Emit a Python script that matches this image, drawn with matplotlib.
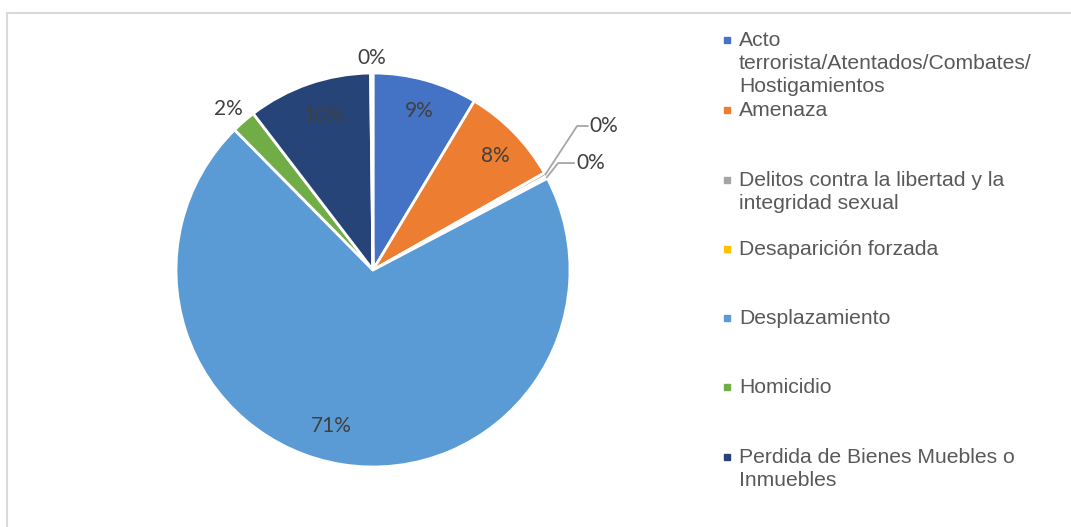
import matplotlib
matplotlib.use("Agg")
import matplotlib.pyplot as plt
from matplotlib.lines import Line2D
import numpy as np

categories = [
    "Acto\nterrorista/Atentados/Combates/\nHostigamientos",
    "Amenaza",
    "Delitos contra la libertad y la\nintegridad sexual",
    "Desaparición forzada",
    "Desplazamiento",
    "Homicidio",
    "Perdida de Bienes Muebles o\nInmuebles",
    "Otro",
]
values = [8.6, 8.2, 0.3, 0.2, 70.3, 2.0, 10.2, 0.2]
pct_labels = ["9%", "8%", "0%", "0%", "71%", "2%", "10%", "0%"]
colors = ["#4472C4", "#ED7D31", "#A5A5A5", "#FFC000", "#5B9BD5", "#70AD47", "#264478", "#9E480E"]
legend_count = 7

W, H = 1071, 527
fig = plt.figure(figsize=(W / 100, H / 100), dpi=100)
fig.patch.set_facecolor("white")

# border (top and left)
fig.add_artist(Line2D([7 / W, 7 / W], [0, 1 - 13 / H], transform=fig.transFigure, color="#D9D9D9", lw=1.5))
fig.add_artist(Line2D([7 / W, 1.0], [1 - 13 / H, 1 - 13 / H], transform=fig.transFigure, color="#D9D9D9", lw=1.5))

cx, cy, R = 373, 270, 197
ax = fig.add_axes([(cx - R) / W, (H - cy - R) / H, 2 * R / W, 2 * R / H])
wedges, _ = ax.pie(values, colors=colors, startangle=90, counterclock=False, radius=1.0,
                   wedgeprops=dict(edgecolor="white", linewidth=2.0))
ax.set_xlim(-1, 1)
ax.set_ylim(-1, 1)
ax.set_aspect("equal")
ax.axis("off")

total = sum(values)
cum = np.cumsum([0] + values) / total
mids = [np.deg2rad(90 - 360 * (cum[i] + cum[i + 1]) / 2) for i in range(len(values))]

lab_font = dict(family="Lato", fontsize=15, color="#404040")
# label distance and small nudges (layout)
placement = {0: (0.84, 0.01, 0.0), 1: (0.84, 0.02, -0.01), 4: (0.83, -0.086, 0.03),
             6: (0.83, 0.02, 0.0), 5: (1.12, -0.0, -0.03), 7: (1.075, 0.0, 0.0)}
for i, (r, dx, dy) in placement.items():
    th = mids[i]
    ax.text(r * np.cos(th) + dx, r * np.sin(th) + dy, pct_labels[i],
            ha="center", va="center", **lab_font)

# leader-line labels for tiny slices
leaders = {2: (1.10, 0.731, 1.036), 3: (1.03, 0.543, 0.94)}
for i, (tx, ty, ex) in leaders.items():
    th = mids[i]
    px, py = np.cos(th), np.sin(th)
    ax.plot([px, ex, tx - 0.01], [py, ty, ty], color="#A6A6A6", lw=1.3, clip_on=False)
    ax.text(tx, ty, pct_labels[i], ha="left", va="center", **lab_font)

# legend drawn manually
leg_y = [40, 110, 180, 249, 318, 387, 457]
for i in range(legend_count):
    y = leg_y[i]
    fig.patches.append(plt.Rectangle((724 / W, 1 - (y + 3) / H), 6 / W, 6 / H,
                                     transform=fig.transFigure, color=colors[i]))
    fig.text(739 / W, 1 - (y - 9) / H, categories[i], ha="left", va="top",
             family="Liberation Sans", fontsize=15.2, color="#595959", linespacing=1.28,
             transform=fig.transFigure)

fig.savefig("out.png", dpi=100, facecolor="white")
